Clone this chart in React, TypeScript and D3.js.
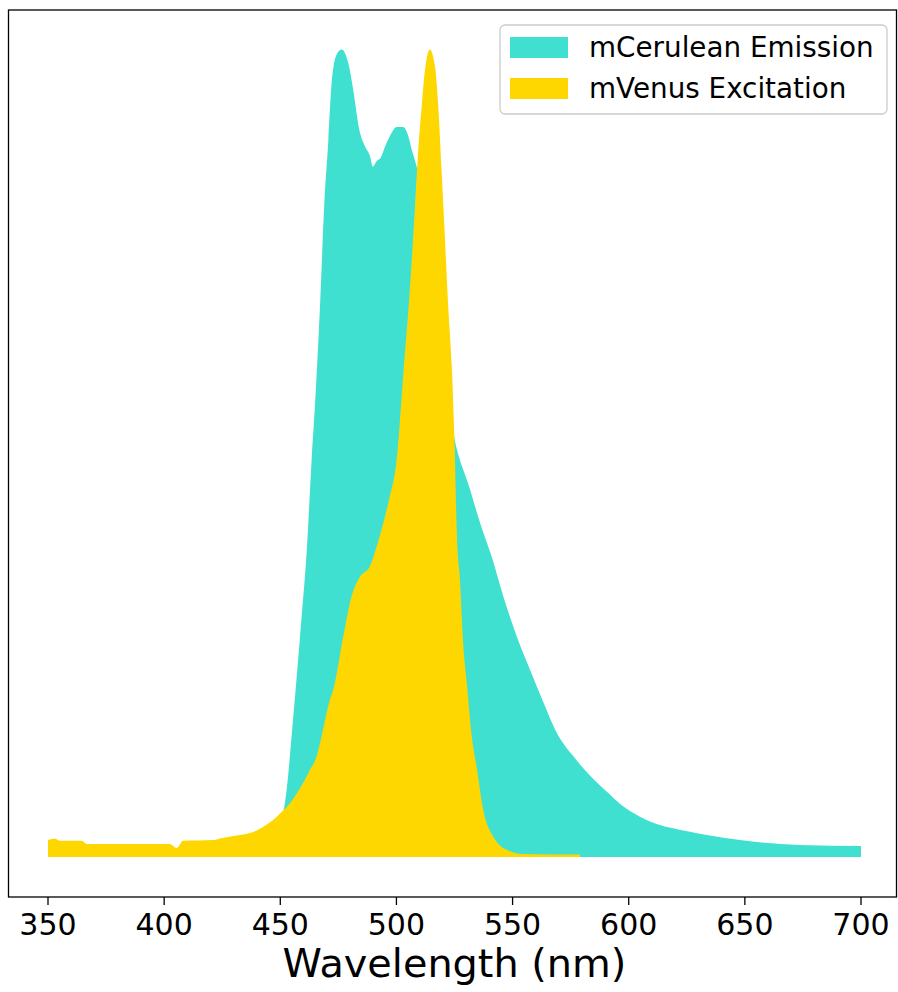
import React from "react";
import * as d3 from "d3";

// mCerulean emission spectrum (normalised), wavelength in nm
const ceruleanNm = [
  432, 440, 445, 450, 452, 455.6, 459.2, 461.4, 463.5, 464.9, 467.1, 468.9, 470.7,
  472.1, 474.3, 476.4, 479.3, 481.4, 484.0, 486.5, 488.6, 489.8, 491.5, 493.2, 495.1, 497.2,
  500.1, 502.9, 505.1, 506.6, 508.7, 512, 516, 520, 523.8, 531.7, 536.0, 541.0, 546.0, 551.8,
  557.5, 563.2, 569.0, 576.1, 583.3, 590.5, 597, 604.8, 612, 619.2, 633.6, 647.9, 673.7, 700,
];
const ceruleanEmission = [
  0.0, 0.01, 0.025, 0.045, 0.067, 0.174, 0.298, 0.38, 0.492, 0.558, 0.682, 0.806, 0.888,
  0.959, 0.994, 1.0, 0.983, 0.95, 0.901, 0.88, 0.868, 0.855, 0.862, 0.866, 0.88, 0.893,
  0.904, 0.904, 0.893, 0.876, 0.855, 0.8, 0.72, 0.62, 0.537, 0.455, 0.414, 0.372, 0.323, 0.273,
  0.232, 0.192, 0.154, 0.125, 0.101, 0.081, 0.064, 0.05, 0.041, 0.0356, 0.0273, 0.021, 0.0149, 0.0136,
];

// mVenus excitation spectrum (normalised), wavelength in nm
const venusNm = [
  350, 353, 355.2, 364.5, 366.7, 402.5, 405.4, 408.2, 421.2, 424, 429.8, 438.4, 444.1, 447,
  451.3, 452.8, 458.5, 462.8, 465.7, 467.1, 471.4, 472.8, 477.1, 480.7, 484.3, 488.6, 491, 494,
  497, 500.1, 503, 505.8, 508, 509.4, 510.9, 512.3, 514.4, 516.6, 518, 519.5, 520.9, 522.3,
  523.8, 525.2, 526, 527.4, 528.6, 530.3, 532.4, 534.5, 537.4, 541.7, 546, 549, 553.2, 579,
];
const venusExcitation = [
  0.021, 0.023, 0.02, 0.02, 0.016, 0.016, 0.011, 0.02, 0.021, 0.023, 0.026, 0.031, 0.04, 0.046,
  0.058, 0.062, 0.085, 0.108, 0.125, 0.141, 0.195, 0.207, 0.273, 0.323, 0.347, 0.36, 0.38, 0.41,
  0.445, 0.492, 0.599, 0.703, 0.806, 0.876, 0.93, 0.975, 1.0, 0.979, 0.93, 0.847, 0.765, 0.682,
  0.61, 0.492, 0.4, 0.34, 0.27, 0.215, 0.15, 0.112, 0.058, 0.025, 0.011, 0.007, 0.0037, 0.003,
];

const xTicks = [350, 400, 450, 500, 550, 600, 650, 700];
const seriesNames = ["mCerulean Emission", "mVenus Excitation"];
const seriesColors = ["#40E0D0", "#FFD700"];
const xLabel = "Wavelength (nm)";

const W = 898;
const H = 992;
const frame = { left: 8.5, right: 896.5, top: 10, bottom: 897 };
const FONT = "'DejaVu Sans', sans-serif";

export default function App() {
  const x = d3.scaleLinear().domain([350, 700]).range([48, 861]);
  const y = d3.scaleLinear().domain([0, 1]).range([857, 49.5]);

  const area = d3
    .area<[number, number]>()
    .x((d) => x(d[0]))
    .y0(y(0))
    .y1((d) => y(d[1]))
    .curve(d3.curveMonotoneX);

  const cerulean = ceruleanNm.map((n, i) => [n, ceruleanEmission[i]] as [number, number]);
  const venus = venusNm.map((n, i) => [n, venusExcitation[i]] as [number, number]);

  const legend = { x: 500, y: 25, w: 387, h: 89 };

  return (
    <svg
      width={W}
      height={H}
      style={{ position: "absolute", left: 0, top: 0, background: "#fff" }}
      fontFamily={FONT}
    >
      <rect x={0} y={0} width={W} height={H} fill="#fff" />
      <path d={area(cerulean) ?? ""} fill={seriesColors[0]} />
      <path d={area(venus) ?? ""} fill={seriesColors[1]} />

      {/* axes frame */}
      <rect
        x={frame.left}
        y={frame.top}
        width={frame.right - frame.left}
        height={frame.bottom - frame.top}
        fill="none"
        stroke="#000"
        strokeWidth={1.3}
      />

      {/* x ticks */}
      {xTicks.map((t) => (
        <g key={t}>
          <line x1={x(t)} x2={x(t)} y1={frame.bottom} y2={frame.bottom + 8} stroke="#000" strokeWidth={1.3} />
          <text x={x(t)} y={935} fontSize={30} textAnchor="middle" fill="#000">
            {t}
          </text>
        </g>
      ))}

      <text x={454.5} y={977} fontSize={39.8} textAnchor="middle" fill="#000">
        {xLabel}
      </text>

      {/* legend */}
      <rect
        x={legend.x}
        y={legend.y}
        width={legend.w}
        height={legend.h}
        rx={5}
        fill="#fff"
        fillOpacity={0.8}
        stroke="#cccccc"
        strokeWidth={1.3}
      />
      {seriesNames.map((name, i) => (
        <g key={name}>
          <rect x={510} y={37 + i * 41} width={58} height={21} fill={seriesColors[i]} />
          <text x={589} y={56.5 + i * 41.5} fontSize={27.8} fill="#000">
            {name}
          </text>
        </g>
      ))}
    </svg>
  );
}
